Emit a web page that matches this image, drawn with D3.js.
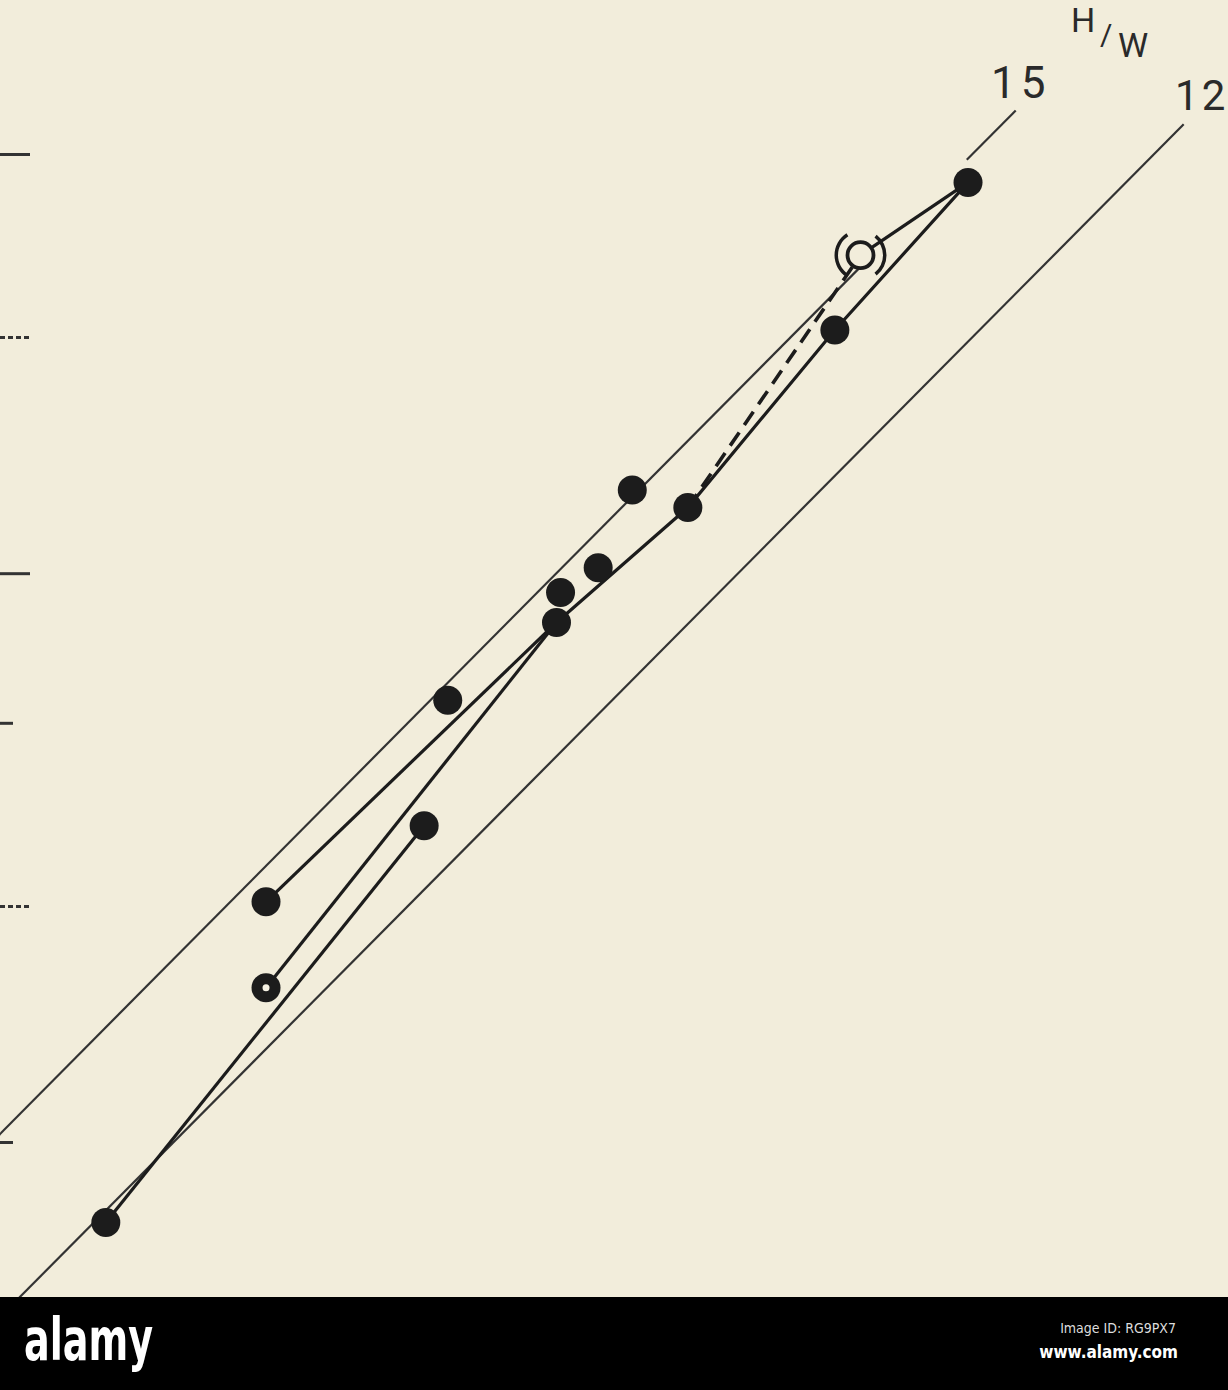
<!DOCTYPE html>
<html><head><meta charset="utf-8">
<script src="https://cdn.jsdelivr.net/npm/d3@7"></script>
<style>html,body{margin:0;padding:0;background:#f2eddb;} svg{display:block}</style>
</head><body>
<svg id="chart" width="1228" height="1390"></svg>
<script>
// ---------- data (W along x, H along y, log-log) ----------
const yTicks = [30, 40, 50, 60, 80, 100];
const ratios = [15, 12];
const ratioLabels = ["15", "12"];
const line15Segments = [[2.0, 5.81], [6.62, 7.03]];
const line12Segments = [[1.95, 8.64]];
const axisTitle = "H/W";

const dotW = [6.63, 5.63, 4.39, 4.70, 4.21, 4.02, 4.00, 3.50, 3.40, 2.80, 2.30];
const dotH = [96.6, 80.7, 66.4, 65.0, 60.4, 58.6, 56.5, 51.4, 44.1, 40.2, 27.2];
const ringW = [2.80];
const ringH = [36.2];
const bracketW = [5.81];
const bracketH = [88.4];

const pathA_W = [2.30, 3.40], pathA_H = [27.2, 44.1];
const pathB_W = [2.80, 4.00], pathB_H = [36.2, 56.5];
const pathC_W = [2.80, 4.00], pathC_H = [40.2, 56.5];
const pathD_W = [4.00, 4.70, 5.63, 6.63], pathD_H = [56.5, 65.0, 80.7, 96.6];
const pathE_W = [4.70, 5.81], pathE_H = [65.0, 88.4];   // dashed
const pathF_W = [5.81, 6.63], pathF_H = [88.4, 96.6];

// ---------- drawing ----------
const BG = "#f2eddb", INK = "#1c1c1c";
const svg = d3.select("#chart");
svg.append("rect").attr("width", 1228).attr("height", 1390).attr("fill", BG);

const x = d3.scaleLog().domain([2, 8]).range([-8, 1121]);
const y = d3.scaleLog().domain([30, 100]).range([1142, 154]);
const zip = (ws, hs) => ws.map((w, i) => [w, hs[i]]);
const line = d3.line().x(d => x(d[0])).y(d => y(d[1]));

// y ticks (inward)
const ax = svg.append("g").call(d3.axisLeft(y).tickValues(yTicks).tickSize(-30).tickFormat(""));
ax.select(".domain").remove();
ax.selectAll(".tick line").attr("stroke", "#333").attr("stroke-width", 3)
  .attr("x2", d => (d === 50 || d === 30) ? 13 : 30)
  .attr("stroke-dasharray", d => (d === 80 || d === 40) ? "5,3" : null);

// ratio lines
const refG = svg.append("g").attr("fill", "none").attr("stroke", "#333").attr("stroke-width", 2.2);
[line15Segments, line12Segments].forEach((segs, k) => {
  segs.forEach(s => {
    refG.append("path").attr("d", line([[s[0], ratios[k] * s[0]], [s[1], ratios[k] * s[1]]]));
  });
});

// connecting paths
const pg = svg.append("g").attr("fill", "none").attr("stroke", INK).attr("stroke-width", 3.2);
[[pathA_W, pathA_H], [pathB_W, pathB_H], [pathC_W, pathC_H], [pathD_W, pathD_H], [pathF_W, pathF_H]]
  .forEach(p => pg.append("path").attr("d", line(zip(p[0], p[1]))));
pg.append("path").attr("d", line(zip(pathE_W, pathE_H))).attr("stroke-dasharray", "16,9").attr("stroke-width", 3.6);

// dots
svg.append("g").selectAll("circle").data(zip(dotW, dotH)).join("circle")
  .attr("cx", d => x(d[0])).attr("cy", d => y(d[1])).attr("r", 14.5).attr("fill", INK);

// ring point
const rg = svg.append("g").selectAll("g").data(zip(ringW, ringH)).join("g")
  .attr("transform", d => `translate(${x(d[0])},${y(d[1])})`);
rg.append("circle").attr("r", 14.5).attr("fill", INK);
rg.append("circle").attr("r", 3.5).attr("fill", "#f6f2e4");

// bracketed open circle
const bg = svg.append("g").selectAll("g").data(zip(bracketW, bracketH)).join("g")
  .attr("transform", d => `translate(${x(d[0])},${y(d[1])})`);
bg.append("circle").attr("r", 13).attr("fill", BG).attr("stroke", INK).attr("stroke-width", 3.8);
const arc = d3.arc().innerRadius(22.5).outerRadius(26);
bg.append("path").attr("fill", INK).attr("d", arc({startAngle: 1.5 * Math.PI - 1.0, endAngle: 1.5 * Math.PI + 1.0}));
bg.append("path").attr("fill", INK).attr("d", arc({startAngle: 0.5 * Math.PI - 0.9, endAngle: 0.5 * Math.PI + 0.9}));

// labels
const lab = svg.append("g").attr("fill", "#2a2a2a").attr("font-family", "Roboto, 'Liberation Sans', sans-serif").attr("font-weight", 400);
const end15 = line15Segments[1][1], end12 = line12Segments[0][1];
lab.append("text").attr("x", x(end15) + 5).attr("y", y(15 * end15) - 12).attr("text-anchor", "middle")
  .attr("font-size", 44).attr("letter-spacing", 5).text(ratioLabels[0]);
lab.append("text").attr("x", x(end12) + 18).attr("y", y(12 * end12) - 14).attr("text-anchor", "middle")
  .attr("font-size", 42).attr("letter-spacing", 3).text(ratioLabels[1]);
const t = lab.append("text").attr("font-size", 34);
t.append("tspan").attr("x", 1071).attr("y", 32).text(axisTitle[0]);
t.append("tspan").attr("x", 1100).attr("y", 45).attr("font-size", 30).text(axisTitle[1]);
t.append("tspan").attr("x", 1118).attr("y", 57).text(axisTitle[2]);

// bottom banner
const bannerFont = "'DejaVu Sans Condensed', 'Liberation Sans Narrow', sans-serif";
svg.append("rect").attr("x", 0).attr("y", 1297).attr("width", 1228).attr("height", 93).attr("fill", "#000");
svg.append("text").attr("x", 24).attr("y", 1360).attr("fill", "#fff")
  .attr("font-family", bannerFont).attr("font-weight", 700)
  .attr("font-size", 58).attr("textLength", 129).attr("lengthAdjust", "spacingAndGlyphs").text("alamy");
svg.append("text").attr("x", 1176).attr("y", 1333).attr("fill", "#ddd").attr("text-anchor", "end")
  .attr("font-family", bannerFont).attr("font-size", 14).text("Image ID: RG9PX7");
svg.append("text").attr("x", 1178).attr("y", 1358).attr("fill", "#fff").attr("text-anchor", "end")
  .attr("font-family", bannerFont).attr("font-weight", 700).attr("font-size", 17).text("www.alamy.com");
</script>
</body></html>
